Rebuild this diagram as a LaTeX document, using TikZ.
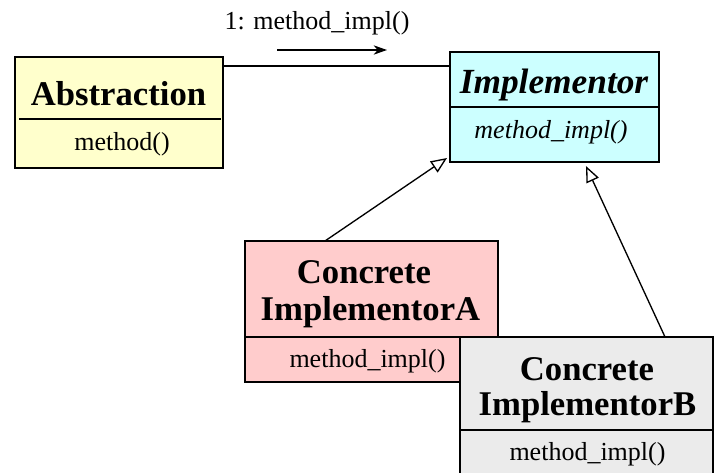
\documentclass[tikz,border=0pt]{standalone}
\usepackage{fontspec}
\setmainfont{Liberation Serif}
\usetikzlibrary{arrows.meta}
\definecolor{absfill}{HTML}{FFFFCC}
\definecolor{implfill}{HTML}{CCFFFF}
\definecolor{cafill}{HTML}{FFCCCC}
\definecolor{cbfill}{HTML}{EBEBEB}
\tikzset{
  umlbox/.style={draw, line width=1.4pt, inner sep=0pt, outer sep=0pt},
  divider/.style={line width=1.4pt},
  title/.style={anchor=base, inner sep=0pt, font=\fontsize{26}{30}\selectfont\bfseries},
  meth/.style={anchor=base, inner sep=0pt, font=\fontsize{19.5}{23}\selectfont},
  assoc/.style={line width=0.9pt},
  inh/.style={line width=1pt, -{Triangle[length=12pt, width=10pt, fill=white]}},
  msgarrow/.style={line width=1pt, -{Stealth[length=10pt, width=7pt, inset=3pt]}},
}
\begin{document}
\begin{tikzpicture}[x=0.75pt, y=-0.75pt]
\useasboundingbox (0,0) rectangle (715,472);
% Abstraction
\node[umlbox, fill=absfill, minimum width=156pt, minimum height=83.25pt] (abs) at (119,112.5) {};
\draw[divider] ([xshift=3pt]abs.west |- 0,119) -- ([xshift=-1.5pt]abs.east |- 0,119);
\node[title] (absT) at (118.5,105) {Abstraction};
\node[meth] (absM) at (122,150) {method()};
% Implementor
\node[umlbox, fill=implfill, minimum width=156.75pt, minimum height=82.5pt] (impl) at (554.5,107) {};
\draw[divider] (impl.west |- 0,107) -- (impl.east |- 0,107);
\node[title, font=\fontsize{26.5}{30}\selectfont\bfseries\itshape] (implT) at (554,93) {Implementor};
\node[meth, font=\fontsize{19.5}{23}\selectfont\itshape] (implM) at (551,138) {method\_impl()};
% association
\draw[assoc] ([yshift=-6.75pt]abs.north east) -- ([yshift=-6.75pt]abs.north east -| impl.west);
\node[meth] (msg) at (317,29) {1: method\_impl()};
\coordinate (m1) at (277,50);
\coordinate (m2) at (387,50);
\draw[msgarrow] (m1) -- (m2);
% Concrete A
\node[umlbox, fill=cafill, minimum width=189.75pt, minimum height=105.75pt] (ca) at (371.5,311.5) {};
\draw[divider] (ca.west |- 0,337) -- (ca.east |- 0,337);
\node[title] (caT1) at (364,283) {Concrete};
\node[title] (caT2) at (370.5,320) {ImplementorA};
\node[meth] (caM) at (367.5,367) {method\_impl()};
% Concrete B
\node[umlbox, fill=cbfill, minimum width=189.75pt, minimum height=104.25pt] (cb) at (586.5,406.5) {};
\draw[divider] (cb.west |- 0,430) -- (cb.east |- 0,430);
\node[title] (cbT1) at (587,380) {Concrete};
\node[title] (cbT2) at (587.5,415) {ImplementorB};
\node[meth] (cbM) at (587.5,460) {method\_impl()};
% inheritance
\draw[inh] ([xshift=-34.9pt]ca.north) -- ([xshift=-2.25pt, yshift=3pt]impl.south west);
\draw[inh] ([xshift=58.9pt]cb.north) -- ([xshift=23.6pt, yshift=-3pt]impl.south);
\end{tikzpicture}
\end{document}
